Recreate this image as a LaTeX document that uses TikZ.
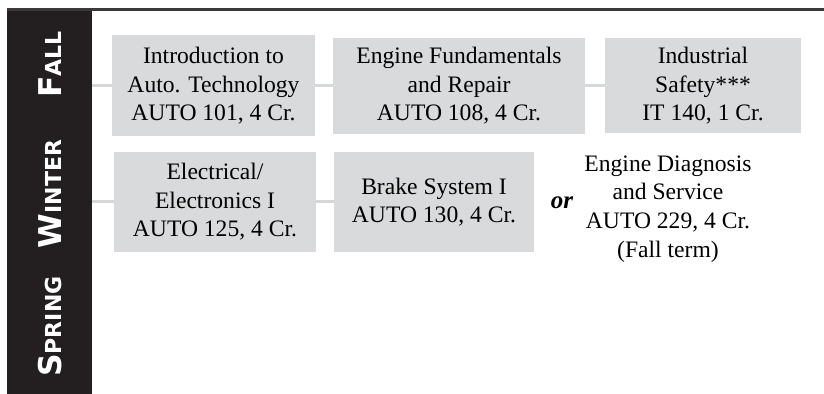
\documentclass[tikz,border=0pt]{standalone}
\usepackage{fontspec}
\setmainfont{Liberation Serif}
\newfontfamily\seasonfont{DejaVu Sans}
\definecolor{boxgray}{HTML}{D9DADB}
\definecolor{linkgray}{HTML}{D6D7D8}
\definecolor{barblack}{HTML}{231F20}
\definecolor{rulegray}{HTML}{3A3A3A}
\newcommand{\seasonname}[2]{{\seasonfont\bfseries{\fontsize{15.7}{16}\selectfont #1}{\fontsize{11}{12}\selectfont #2}}}
\tikzset{
	course/.style={fill=boxgray, inner sep=0pt, align=center, font=\fontsize{11.8}{14.3}\selectfont},
	link/.style={draw=linkgray, line width=1.5pt},
	season/.style={white, rotate=90, anchor=base, inner sep=0pt}
}
\begin{document}
\begin{tikzpicture}[x=1pt, y=-1pt]
	\useasboundingbox (0,0) rectangle (412,197);
	\fill[barblack] (3.5,5) rectangle (46,197);
	\draw[draw=rulegray, line width=1.4pt] (3.5,4.7) -- (412,4.7);
	\node[season] (fall) at (30.5,32.2) {\seasonname{F}{ALL}};
	\node[season] (winter) at (30.5,97) {\seasonname{W}{INTER}};
	\node[season] (spring) at (30.5,163.3) {\seasonname{S}{PRING}};
	\coordinate (fallstart) at (46,43);
	\coordinate (winterstart) at (46,101);
	\node[course, minimum width=101.5pt, minimum height=50.5pt] (intro) at (106.75,43) {Introduction to\\Auto. Technology\\AUTO 101, 4 Cr.};
	\node[course, minimum width=126pt, minimum height=48pt] (engine) at (229.5,43) {Engine Fundamentals\\and Repair\\AUTO 108, 4 Cr.};
	\node[course, minimum width=98pt, minimum height=47.5pt] (safety) at (351.5,43) {Industrial\\Safety***\\IT 140, 1 Cr.};
	\node[course, minimum width=101pt, minimum height=50pt] (electrical) at (107.5,101) {Electrical/\\Electronics I\\AUTO 125, 4 Cr.};
	\node[course, minimum width=100pt, minimum height=50pt] (brake) at (217,101) {Brake System I\\AUTO 130, 4 Cr.};
	\node[font=\fontsize{12.5}{14}\selectfont\bfseries\itshape, inner sep=0pt] (or) at (281,101.5) {or};
	\node[course, fill=none] (diagnosis) at (334,104.5) {Engine Diagnosis\\and Service\\AUTO 229, 4 Cr.\\(Fall term)};
	\draw[link] (fallstart) -- (intro.west);
	\draw[link] (intro.east) -- (engine.west);
	\draw[link] (engine.east) -- (safety.west);
	\draw[link] (winterstart) -- (electrical.west);
	\draw[link] (electrical.east) -- (brake.west);
\end{tikzpicture}
\end{document}
